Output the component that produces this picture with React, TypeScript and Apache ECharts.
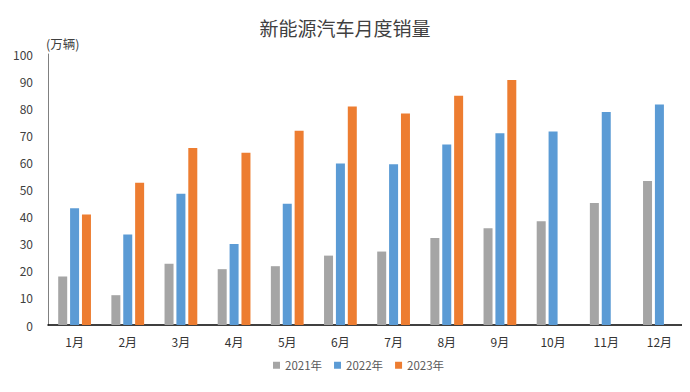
import React, { useEffect, useRef } from "react";
import * as echarts from "echarts";

const categories = ["1月", "2月", "3月", "4月", "5月", "6月", "7月", "8月", "9月", "10月", "11月", "12月"];
const sales2021 = [17.9, 11.0, 22.6, 20.6, 21.7, 25.6, 27.1, 32.1, 35.7, 38.3, 45.0, 53.1];
const sales2022 = [43.1, 33.4, 48.4, 29.9, 44.7, 59.6, 59.3, 66.6, 70.8, 71.4, 78.6, 81.4];
const sales2023: (number | null)[] = [40.8, 52.5, 65.3, 63.6, 71.7, 80.6, 78.0, 84.6, 90.4, null, null, null];
const seriesNames = ["2021年", "2022年", "2023年"];
const colors = ["#A5A5A5", "#5B9BD5", "#ED7D31"];

const FONT = "'Noto Sans CJK SC', 'Noto Sans', sans-serif";

export default function App() {
  const ref = useRef<HTMLDivElement>(null);
  useEffect(() => {
    if (!ref.current) return;
    const chart = echarts.init(ref.current, undefined, { renderer: "svg" });
    const data = [sales2021, sales2022, sales2023];
    chart.setOption({
      animation: false,
      backgroundColor: "#ffffff",
      title: {
        text: "新能源汽车月度销量",
        left: "center",
        top: 13,
        textStyle: { fontFamily: FONT, fontSize: 19, fontWeight: "normal", color: "#404040" },
      },
      legend: {
        data: seriesNames,
        bottom: 16,
        left: 268,
        icon: "rect",
        itemWidth: 7,
        itemHeight: 7,
        itemGap: 12,
        textStyle: { fontFamily: FONT, fontSize: 11.5, color: "#595959" },
      },
      grid: { left: 48, right: 4, top: 54, bottom: 67, containLabel: false },
      xAxis: {
        type: "category",
        data: categories,
        axisLine: { show: true, lineStyle: { color: "#000000", width: 1.5 } },
        axisTick: { show: false },
        axisLabel: { fontFamily: FONT, fontSize: 12, color: "#333333", margin: 10 },
      },
      yAxis: {
        type: "value",
        min: 0,
        max: 100,
        interval: 10,
        name: "(万辆)",
        nameLocation: "end",
        nameGap: 4,
        nameTextStyle: { fontFamily: FONT, fontSize: 12.5, color: "#404040", align: "left", padding: [0, 0, 0, -2] },
        axisLine: { show: true, lineStyle: { color: "#808080", width: 1 } },
        axisTick: { show: false },
        splitLine: { show: false },
        axisLabel: { fontFamily: FONT, fontSize: 12, color: "#404040", margin: 15 },
      },
      series: seriesNames.map((name, i) => ({
        name,
        type: "bar",
        data: data[i],
        barWidth: 9,
        barGap: "32%",
        itemStyle: { color: colors[i] },
      })),
    });
    return () => chart.dispose();
  }, []);
  return <div ref={ref} style={{ width: 690, height: 392, margin: -8 }} />;
}
